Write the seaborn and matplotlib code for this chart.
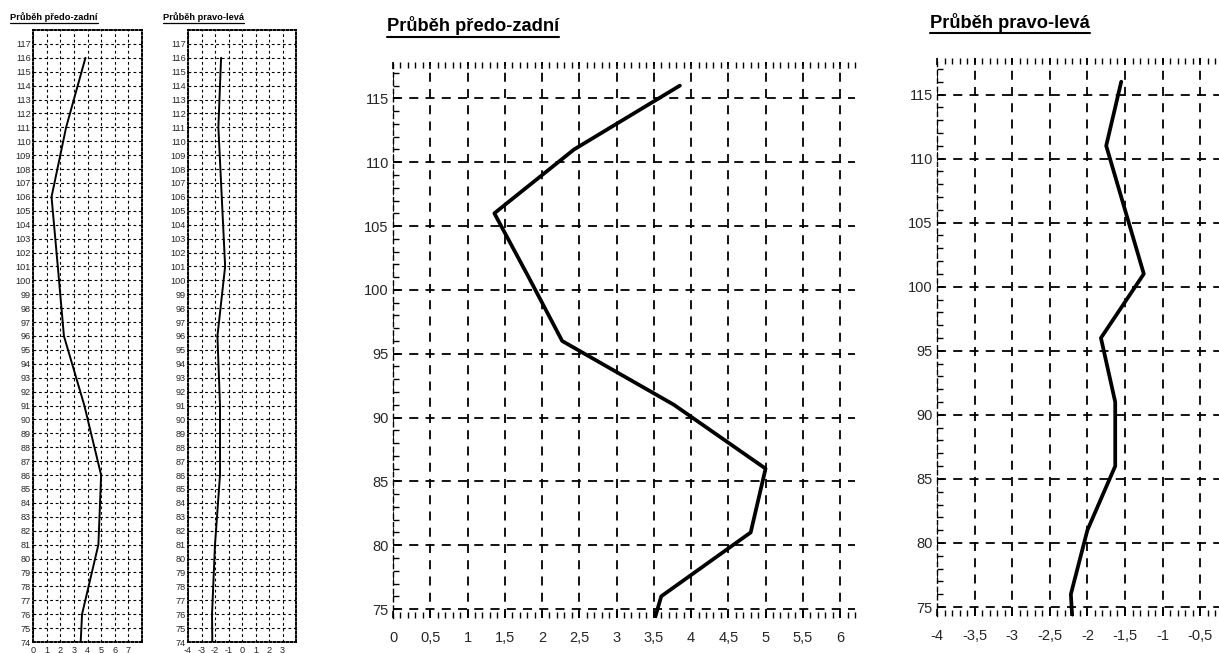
import matplotlib
matplotlib.use("Agg")
import matplotlib.pyplot as plt
from matplotlib.lines import Line2D
from matplotlib.ticker import FixedLocator, FixedFormatter, MultipleLocator
import pandas as pd
import seaborn as sns

# Measured profile: height level (cm) and lateral deviation (cm)
height_cm = [116, 111, 106, 101, 96, 91, 86, 81, 76, 74]
ap_cm = [3.85, 2.43, 1.36, 1.82, 2.27, 3.77, 5.0, 4.8, 3.6, 3.5]
lr_cm = [-1.55, -1.75, -1.5, -1.25, -1.82, -1.63, -1.63, -2.0, -2.22, -2.2]

title_ap = "Průběh předo-zadní"
title_lr = "Průběh pravo-levá"

ap_ticks = [0, 0.5, 1, 1.5, 2, 2.5, 3, 3.5, 4, 4.5, 5, 5.5, 6]
ap_labels = ["0", "0,5", "1", "1,5", "2", "2,5", "3", "3,5", "4", "4,5", "5", "5,5", "6"]
lr_ticks = [-4, -3.5, -3, -2.5, -2, -1.5, -1, -0.5]
lr_labels = ["-4", "-3,5", "-3", "-2,5", "-2", "-1,5", "-1", "-0,5"]
height_ticks = [75, 80, 85, 90, 95, 100, 105, 110, 115]

small_height_ticks = list(range(74, 118))
small_ap_ticks = list(range(0, 8))
small_lr_ticks = list(range(-4, 4))

df = pd.DataFrame({"height": height_cm, "ap": ap_cm, "lr": lr_cm})

sns.set_style("white")
plt.rcParams["font.family"] = ["Liberation Sans", "DejaVu Sans"]
plt.rcParams["axes.unicode_minus"] = False

W, H = 1219, 653
fig = plt.figure(figsize=(W / 100, H / 100), dpi=100)
fig.patch.set_facecolor("white")


def rect(left, right, top, bottom):
    return [left / W, 1 - bottom / H, (right - left) / W, (bottom - top) / H]


def big_panel(ax, col, xlim, ticks, labels):
    sns.lineplot(data=df, x=col, y="height", orient="y", estimator=None,
                 color="black", lw=2.7, ax=ax)
    ax.set_xlim(*xlim)
    ax.set_ylim(74.3, 117.85)
    for side in ("top", "bottom", "right"):
        ax.spines[side].set_visible(False)
    ax.spines["left"].set_linestyle((0, (3, 3)))
    ax.spines["left"].set_linewidth(1.0)
    ax.spines["left"].set_color("black")
    ax.xaxis.set_major_locator(FixedLocator(ticks))
    ax.xaxis.set_major_formatter(FixedFormatter(labels))
    ax.xaxis.set_minor_locator(MultipleLocator(0.1))
    ax.yaxis.set_major_locator(FixedLocator(height_ticks))
    ax.yaxis.set_minor_locator(MultipleLocator(1))
    ax.tick_params(axis="x", which="both", top=True, bottom=True,
                   direction="in", color="black")
    ax.tick_params(axis="x", which="major", length=5, width=1.2,
                   labelsize=10.5, pad=9)
    ax.tick_params(axis="x", which="minor", length=4, width=1.0)
    ax.tick_params(axis="y", which="both", left=True, right=False,
                   direction="in", color="black")
    ax.tick_params(axis="y", which="major", length=5, width=1.2,
                   labelsize=10.5, pad=3)
    ax.tick_params(axis="y", which="minor", length=4, width=1.0)
    ax.grid(True, which="major", color="black", linestyle=(0, (5, 4)),
            linewidth=1.3)
    ax.grid(False, which="minor")
    ax.set_xlabel("")
    ax.set_ylabel("")


def small_panel(ax, col, xlim, xticks):
    sns.lineplot(data=df, x=col, y="height", orient="y", estimator=None,
                 color="black", lw=1.4, ax=ax)
    ax.set_xlim(*xlim)
    ax.set_ylim(74, 118)
    ax.set_xticks(xticks)
    ax.set_yticks(small_height_ticks)
    ax.grid(True, color="black", linestyle=(0, (2.5, 2.5)), linewidth=0.8)
    for s in ax.spines.values():
        s.set_visible(True)
        s.set_color("black")
        s.set_linestyle((0, (1, 1.2)))
        s.set_linewidth(1.4)
    ax.tick_params(axis="y", length=0, pad=1.5, labelsize=6.6)
    ax.tick_params(axis="x", length=0, pad=3, labelsize=6.6)
    for lab in ax.get_xticklabels() + ax.get_yticklabels():
        lab.set_fontfamily(["Liberation Sans Narrow", "Liberation Sans"])
    ax.set_xlabel("")
    ax.set_ylabel("")


ax_s1 = fig.add_axes(rect(33, 142, 30, 642))
small_panel(ax_s1, "ap", (0, 8), small_ap_ticks)
ax_s2 = fig.add_axes(rect(188, 296, 30, 642))
small_panel(ax_s2, "lr", (-4, 4), small_lr_ticks)

ax_ap = fig.add_axes(rect(393, 855, 62, 618))
big_panel(ax_ap, "ap", (0, 6.2), ap_ticks, ap_labels)
ax_lr = fig.add_axes(rect(937, 1219, 58, 616))
big_panel(ax_lr, "lr", (-4, -4 + 282 / 75.2), lr_ticks, lr_labels)


def underlined_title(x_px, baseline_px, text, size, gap_px, lw):
    t = fig.text(x_px / W, 1 - baseline_px / H, text, fontsize=size,
                 fontweight="bold", ha="left", va="baseline", color="black")
    fig.canvas.draw()
    bb = t.get_window_extent(renderer=fig.canvas.get_renderer())
    y = (H - baseline_px - gap_px) / H
    fig.add_artist(Line2D([bb.x0 / W, bb.x1 / W], [y, y], color="black",
                          lw=lw, transform=fig.transFigure))


underlined_title(10, 20, title_ap, 6.7, 3, 0.9)
underlined_title(163, 20, title_lr, 6.7, 3, 0.9)
underlined_title(387, 31, title_ap, 13.2, 6, 1.5)
underlined_title(930, 28, title_lr, 13.2, 5, 1.5)

fig.savefig("out.png", dpi=100, facecolor="white")
